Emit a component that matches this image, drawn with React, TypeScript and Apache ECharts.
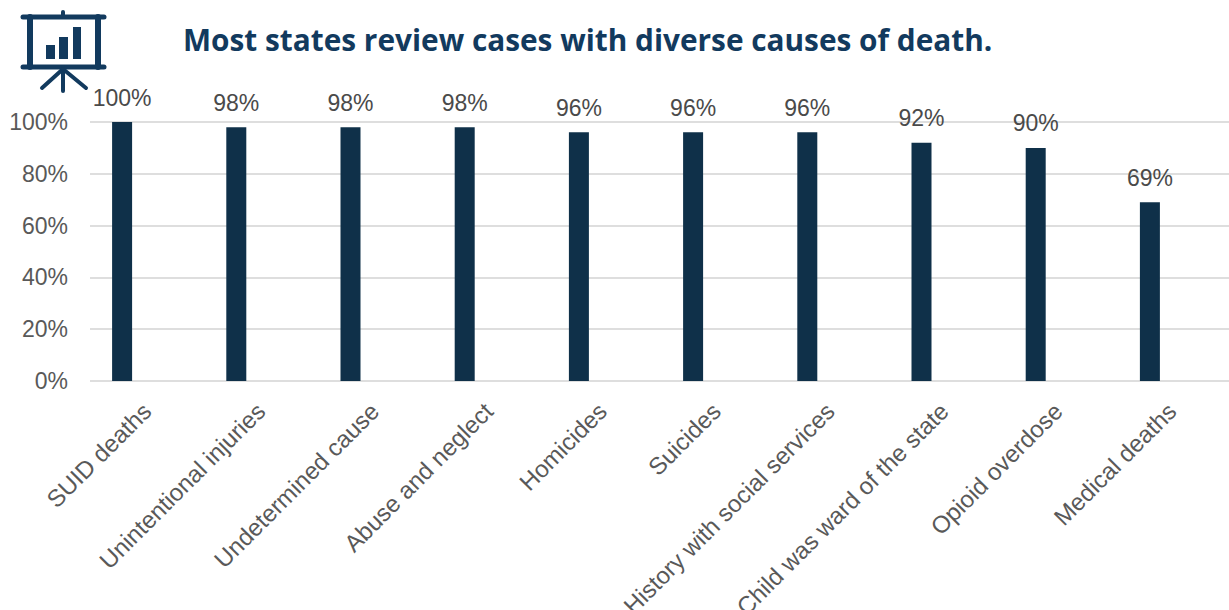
import React, { useEffect, useRef } from "react";
import * as echarts from "echarts";

const categories = ["SUID deaths", "Unintentional injuries", "Undetermined cause", "Abuse and neglect", "Homicides", "Suicides", "History with social services", "Child was ward of the state", "Opioid overdose", "Medical deaths"];
const values = [100, 98, 98, 98, 96, 96, 96, 92, 90, 69];
const yTicks = [0, 20, 40, 60, 80, 100];
const titleText = "Most states review cases with diverse causes of death.";

const NAVY = "#0f3049";
const ICON = "#123a5e";
const FONT = "'Liberation Sans', Arial, sans-serif";

export default function App() {
  const ref = useRef<HTMLDivElement>(null);
  useEffect(() => {
    const chart = echarts.init(ref.current!, null, { renderer: "svg" });
    const line = (x1: number, y1: number, x2: number, y2: number, w: number) => ({
      type: "line", shape: { x1, y1, x2, y2 },
      style: { stroke: ICON, lineWidth: w, lineCap: "round" },
    });
    const box = (x: number, y: number, width: number, height: number) => ({
      type: "rect", shape: { x, y, width, height }, style: { fill: ICON },
    });
    chart.setOption({
      animation: false,
      backgroundColor: "#ffffff",
      title: {
        text: titleText, left: 178, top: 19,
        textStyle: { fontFamily: "'Open Sans', sans-serif", fontWeight: "bold", fontSize: 29.8, color: ICON },
      },
      grid: [
        { left: 90, right: 0, top: 122, height: 259, outerBoundsMode: "none" },
        { left: 65, width: 1142, top: 122, height: 259, outerBoundsMode: "none" },
      ],
      xAxis: [
        {
          gridIndex: 0, type: "category", data: categories,
          axisLine: { show: false }, axisTick: { show: false },
          axisLabel: { interval: 0, rotate: 45, margin: 26, fontSize: 24, color: "#595959", fontFamily: FONT },
        },
        { gridIndex: 1, type: "category", data: categories, show: false },
      ],
      yAxis: [
        {
          gridIndex: 0, type: "value", min: yTicks[0], max: yTicks[yTicks.length - 1], interval: 20,
          axisLine: { show: false }, axisTick: { show: false },
          splitLine: { show: true, lineStyle: { color: "#dedede", width: 2 } },
          axisLabel: { margin: 22, fontSize: 23, color: "#595959", fontFamily: FONT, formatter: "{value}%" },
        },
        { gridIndex: 1, type: "value", min: 0, max: 100, show: false },
      ],
      series: [
        {
          type: "bar", xAxisIndex: 1, yAxisIndex: 1, data: values, barWidth: 20, z: 3,
          itemStyle: { color: NAVY },
          label: {
            show: true, position: "top", distance: 13, formatter: "{c}%",
            fontSize: 23, color: "#4a4a4a", fontFamily: FONT,
          },
        },
      ],
      graphic: [
        line(63, 12, 63, 17, 4), line(23, 17, 104, 17, 5),
        line(23, 67, 104, 67, 5),
        line(30, 17, 30, 67, 6), line(98, 17, 98, 67, 6),
        line(63, 67, 63, 91, 4), line(63, 69, 42, 88, 4), line(63, 69, 86, 88, 4),
        box(46, 45, 9, 14), box(59, 37, 9, 22), box(73, 27, 8, 32),
      ],
    });
    return () => chart.dispose();
  }, []);
  return <div ref={ref} style={{ position: "absolute", left: 0, top: 0, width: 1229, height: 610 }} />;
}
